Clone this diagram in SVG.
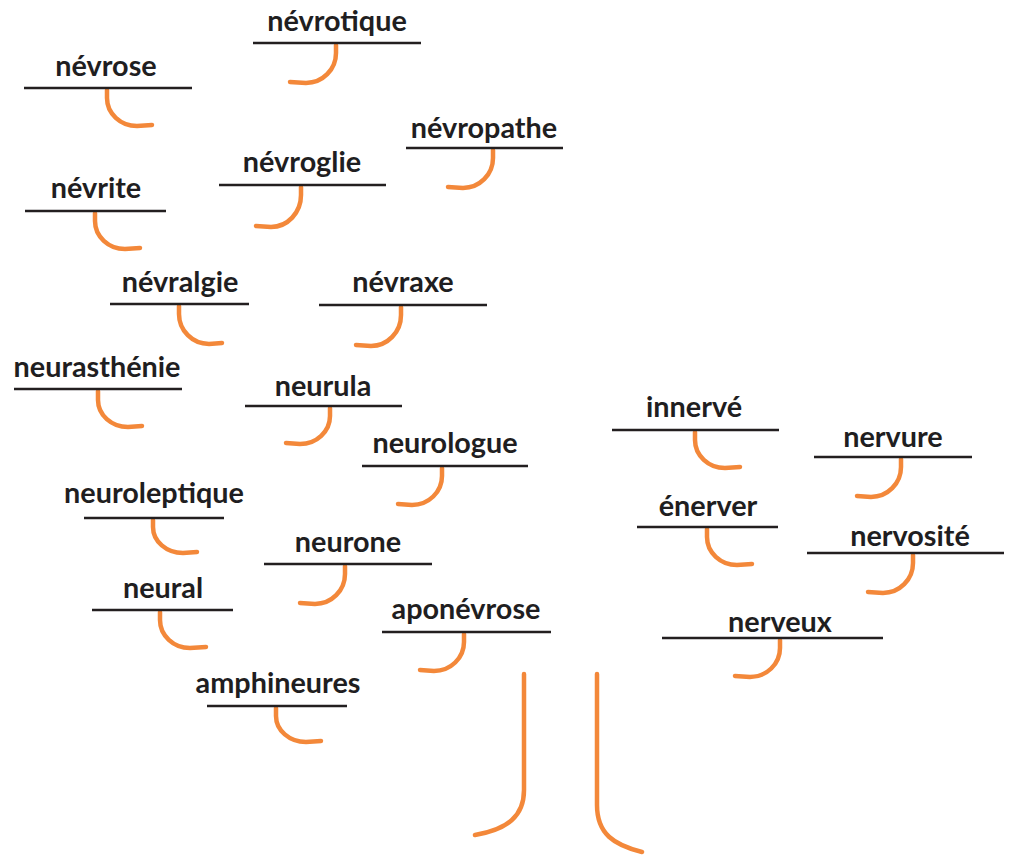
<svg xmlns="http://www.w3.org/2000/svg" width="1010" height="856" viewBox="0 0 1010 856">
<style>
.bg{fill:#ffffff}
.lbl{font-family:Lato,"Open Sans","Liberation Sans",sans-serif;font-weight:700;font-size:28.8px;fill:#1f1e21;text-anchor:middle}
.bar{stroke:#231f20;stroke-width:2.5;fill:none}
.hook{stroke:#f3883a;stroke-width:4.5;fill:none;stroke-linecap:round;stroke-linejoin:round}
</style>
<rect class="bg" x="0" y="0" width="1010" height="856"/>
<g id="connectors">
<path class="hook" d="M336,45 V53 A30 30 0 0 1 306,83 L290,82"/>
<path class="hook" d="M107,90 V98 A30 28 0 0 0 137,126 L152,125"/>
<path class="hook" d="M493,150 V158 A30 30 0 0 1 463,188 L448,187"/>
<path class="hook" d="M301,187 V195 A30 32 0 0 1 271,227 L256,226"/>
<path class="hook" d="M95,213 V221 A30 28 0 0 0 125,249 L140,248"/>
<path class="hook" d="M179,306 V314 A30 30 0 0 0 209,344 L222,343"/>
<path class="hook" d="M401,307 V315 A30 31 0 0 1 371,346 L356,345"/>
<path class="hook" d="M98,391 V400 A30 27 0 0 0 128,427 L142,426"/>
<path class="hook" d="M330,408 V416 A30 28 0 0 1 300,444 L286,443"/>
<path class="hook" d="M442,468 V476 A30 29 0 0 1 412,505 L398,504"/>
<path class="hook" d="M153,520 V527 A30 26 0 0 0 183,553 L197,552"/>
<path class="hook" d="M345,566 V574 A30 30 0 0 1 315,604 L300,603"/>
<path class="hook" d="M160,612 V620 A30 28 0 0 0 190,648 L206,647"/>
<path class="hook" d="M464,634 V642 A30 29 0 0 1 434,671 L420,670"/>
<path class="hook" d="M276,708 V716 A30 26 0 0 0 306,742 L321,741"/>
<path class="hook" d="M695,432 V440 A30 28 0 0 0 725,468 L740,467"/>
<path class="hook" d="M901,459 V467 A30 30 0 0 1 871,497 L857,496"/>
<path class="hook" d="M707,529 V537 A30 28 0 0 0 737,565 L752,564"/>
<path class="hook" d="M913,555 V563 A30 30 0 0 1 883,593 L868,592"/>
<path class="hook" d="M780,640 V648 A30 29 0 0 1 750,677 L735,676"/>
<path class="hook" d="M524,674 V790 C524,816 508,829 475,835"/>
<path class="hook" d="M597,674 V805 C597,834 614,845 642,852"/>
</g>
<g id="n-nevrotique"><line class="bar" x1="253" y1="43" x2="421" y2="43"/><text class="lbl" x="337" y="31">névrotique</text></g>
<g id="n-nevrose"><line class="bar" x1="24" y1="88" x2="192" y2="88"/><text class="lbl" x="106" y="76">névrose</text></g>
<g id="n-nevropathe"><line class="bar" x1="406" y1="148" x2="563" y2="148"/><text class="lbl" x="484" y="138">névropathe</text></g>
<g id="n-nevroglie"><line class="bar" x1="219" y1="185" x2="386" y2="185"/><text class="lbl" x="302" y="172">névroglie</text></g>
<g id="n-nevrite"><line class="bar" x1="25" y1="211" x2="166" y2="211"/><text class="lbl" x="96" y="198">névrite</text></g>
<g id="n-nevralgie"><line class="bar" x1="110" y1="304" x2="249" y2="304"/><text class="lbl" x="180" y="292">névralgie</text></g>
<g id="n-nevraxe"><line class="bar" x1="319" y1="305" x2="487" y2="305"/><text class="lbl" x="403" y="292">névraxe</text></g>
<g id="n-neurasthenie"><line class="bar" x1="14" y1="389" x2="182" y2="389"/><text class="lbl" x="97" y="377">neurasthénie</text></g>
<g id="n-neurula"><line class="bar" x1="245" y1="406" x2="402" y2="406"/><text class="lbl" x="323" y="396">neurula</text></g>
<g id="n-neurologue"><line class="bar" x1="362" y1="466" x2="528" y2="466"/><text class="lbl" x="445" y="453">neurologue</text></g>
<g id="n-neuroleptique"><line class="bar" x1="84" y1="518" x2="224" y2="518"/><text class="lbl" x="154" y="503">neuroleptique</text></g>
<g id="n-neurone"><line class="bar" x1="264" y1="564" x2="432" y2="564"/><text class="lbl" x="348" y="552">neurone</text></g>
<g id="n-neural"><line class="bar" x1="92" y1="610" x2="233" y2="610"/><text class="lbl" x="163" y="598">neural</text></g>
<g id="n-aponevrose"><line class="bar" x1="382" y1="632" x2="551" y2="632"/><text class="lbl" x="466" y="619">aponévrose</text></g>
<g id="n-amphineures"><line class="bar" x1="207" y1="706" x2="347" y2="706"/><text class="lbl" x="278" y="693">amphineures</text></g>
<g id="n-innerve"><line class="bar" x1="612" y1="430" x2="779" y2="430"/><text class="lbl" x="694" y="417">innervé</text></g>
<g id="n-nervure"><line class="bar" x1="814" y1="457" x2="972" y2="457"/><text class="lbl" x="893" y="447">nervure</text></g>
<g id="n-enerver"><line class="bar" x1="637" y1="527" x2="778" y2="527"/><text class="lbl" x="708" y="516">énerver</text></g>
<g id="n-nervosite"><line class="bar" x1="807" y1="553" x2="1004" y2="553"/><text class="lbl" x="910" y="546">nervosité</text></g>
<g id="n-nerveux"><line class="bar" x1="662" y1="638" x2="883" y2="638"/><text class="lbl" x="780" y="632">nerveux</text></g>
</svg>
